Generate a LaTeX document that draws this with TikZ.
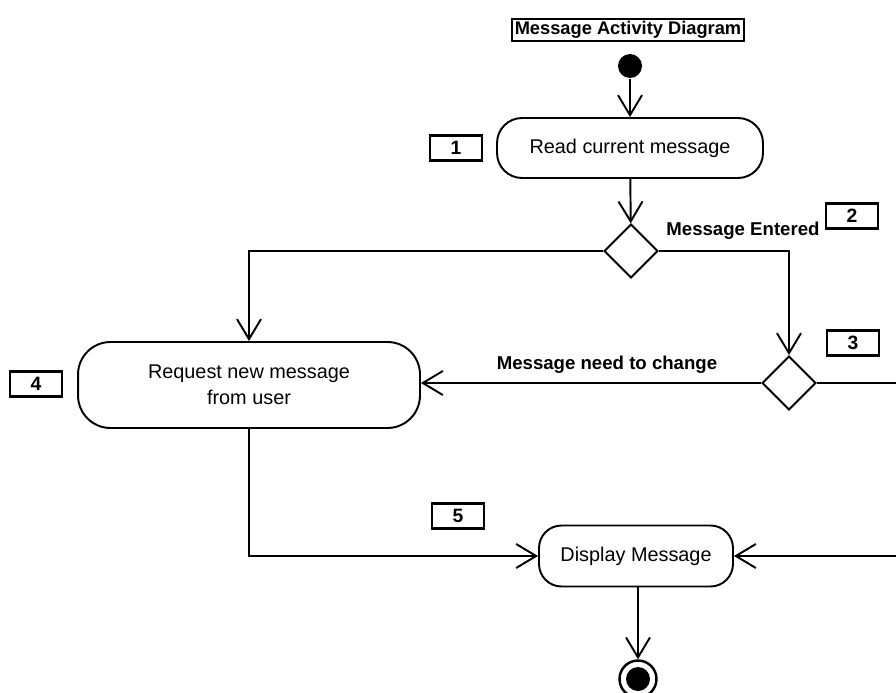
\documentclass[tikz,border=0pt]{standalone}
\usepackage{fontspec}
\setmainfont{Liberation Sans}
\usetikzlibrary{shapes.geometric, arrows.meta}

\begin{document}
\begin{tikzpicture}[x=0.02cm, y=-0.02cm, line width=1.1pt,
    >={Straight Barb[length=0.4cm, width=0.48cm]},
    action/.style={draw, rounded corners=0.5cm, align=center,
        font=\fontsize{11.3}{14.8}\selectfont},
    numbox/.style={draw, line width=1.3pt, minimum width=1.04cm, minimum height=0.5cm,
        inner sep=0pt, font=\bfseries\fontsize{11}{13}\selectfont},
    decision/.style={draw, diamond, aspect=1, minimum size=1.08cm, inner sep=0pt},
    guard/.style={font=\bfseries\fontsize{10.6}{12}\selectfont}]
    \clip (0,0) rectangle (896,693);
    \node[draw, inner sep=1.5pt, font=\bfseries\fontsize{10.4}{12}\selectfont] (title) at (628,30) {Message Activity Diagram};
    \node[circle, fill, minimum size=0.48cm, inner sep=0pt] (start) at (630,66) {};
    \node[action, minimum width=5.32cm, minimum height=1.2cm] (read) at (630,148) {Read current message};
    \node[numbox] (n1) at (456,148) {1};
    \node[decision] (d2) at (631,251) {};
    \node[numbox] (n2) at (852,216) {2};
    \node[guard] (entered) at (743,231) {Message Entered};
    \node[decision] (d3) at (789,383) {};
    \node[numbox] (n3) at (853,343) {3};
    \node[action, rounded corners=0.65cm, minimum width=6.84cm, minimum height=1.72cm] (request) at (249,385) {Request new message\\from user};
    \node[numbox] (n4) at (36,384) {4};
    \node[guard] (change) at (607,365) {Message need to change};
    \node[action, rounded corners=0.45cm, minimum width=3.88cm, minimum height=1.22cm] (display) at (636,556) {Display Message};
    \node[numbox] (n5) at (458,516) {5};
    \node[circle, draw, line width=1.4pt, minimum size=0.74cm, inner sep=0pt] (final) at (638,679) {};
    \fill (final.center) circle (0.24cm);
    \coordinate (offright) at (930,0);
    \draw[->] (start) -- (read);
    \draw[->] (read) -- (d2);
    \draw[->] (d2.west) -| (request.north);
    \draw[->] (d2.east) -| (d3.north);
    \draw[->] (d3.west) -- (d3.west -| request.east);
    \draw[->] (d3.east) -- (d3.east -| offright) |- (display.east);
    \draw[->] (request.south) |- (display.west);
    \draw[->] (final |- display.south) -- (final);
\end{tikzpicture}
\end{document}
